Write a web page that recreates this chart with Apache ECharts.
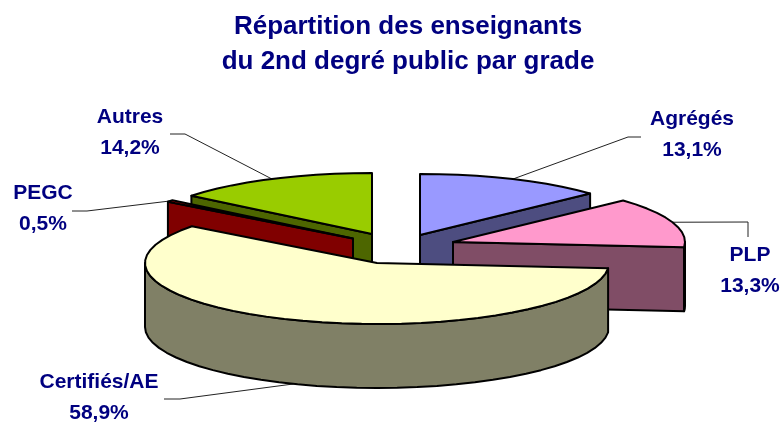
<!DOCTYPE html>
<html><head><meta charset="utf-8">
<style>html,body{margin:0;padding:0;background:#fff}#c{width:782px;height:423px}</style>
<script src="https://cdn.jsdelivr.net/npm/echarts@6/dist/echarts.min.js"></script>
</head><body><div id="c"></div>
<script>
// data (clockwise from 12 o'clock)
var categories = ['Agrégés', 'PLP', 'Certifiés/AE', 'PEGC', 'Autres'];
var percents = [13.1, 13.3, 58.9, 0.5, 14.2];
var titleLines = ['Répartition des enseignants', 'du 2nd degré public par grade'];

// styling and layout
var topColors = ['#9999ff', '#ff99cc', '#ffffcc', '#ff0000', '#99cc00'];
var sideColors = ['#4d4d80', '#804d66', '#808066', '#800000', '#4d6600'];
var apexes = [[420, 235], [453, 242], [377, 263], [353, 238.5], [372, 234]];
var leaderEnds = [[[628, 137], [641, 137]], [[748, 222], [748, 237]], [[180, 399], [164, 399]], [[87, 211], [72, 211]], [[185, 134], [170, 134]]];
var labelPos = [[692, 134.5], [750, 271], [99, 397.5], [43, 209], [130, 133]];
var drawOrder = [4, 3, 0, 1, 2];
var RX = 232, RY = 61, DEPTH = 64, TEXT = '#000080';

var angles = [], acc = 0, total = percents.reduce(function (a, b) { return a + b; }, 0);
percents.forEach(function (p) { angles.push([acc / total * 360, (acc + p) / total * 360]); acc += p; });

function pt(i, deg, dy) {
  var r = deg * Math.PI / 180;
  return [apexes[i][0] + RX * Math.sin(r), apexes[i][1] - RY * Math.cos(r) + (dy || 0)];
}
function arc(i, a, b, dy) {
  var out = [], n = Math.max(1, Math.ceil((b - a) / 5));
  for (var k = 0; k <= n; k++) out.push(pt(i, a + (b - a) * k / n, dy));
  return out;
}
function poly(points, fill) {
  return { type: 'polygon', shape: { points: points },
    style: { fill: fill, stroke: '#000', lineWidth: 2, lineJoin: 'round' } };
}
function wall(i, deg) {
  var a = apexes[i], p = pt(i, deg);
  return poly([a, p, [p[0], p[1] + DEPTH], [a[0], a[1] + DEPTH]], sideColors[i]);
}
function renderItem(params, api) {
  var i = api.value(0), s = angles[i][0], e = angles[i][1], kids = [];
  if (s > 180 && s < 360) kids.push(wall(i, s));
  if (e > 0 && e < 180) kids.push(wall(i, e));
  var ra = Math.max(s, 90), rb = Math.min(e, 270);
  if (rb > ra) {
    kids.push(poly(arc(i, ra, rb, 0).concat(arc(i, ra, rb, DEPTH).reverse()), sideColors[i]));
  }
  kids.push(poly([apexes[i]].concat(arc(i, s, e, 0)), topColors[i]));
  return { type: 'group', children: kids };
}
function renderLabel(params, api) {
  var i = api.value(0), mid = (angles[i][0] + angles[i][1]) / 2;
  var inFront = mid > 90 && mid < 270;
  var pts = [pt(i, mid, inFront ? DEPTH : 0)].concat(leaderEnds[i]);
  return { type: 'group', children: [
    { type: 'polyline', shape: { points: pts }, style: { fill: null, stroke: '#222', lineWidth: 1 } },
    { type: 'text', style: {
        text: categories[i] + '\n' + percents[i].toFixed(1).replace('.', ',') + '%',
        x: labelPos[i][0], y: labelPos[i][1], align: 'center', verticalAlign: 'middle',
        fill: TEXT, font: 'bold 21px "Liberation Sans", Arial, sans-serif', lineHeight: 31 } }
  ] };
}
var chart = echarts.init(document.getElementById('c'), null, { renderer: 'canvas' });
chart.setOption({
  backgroundColor: '#fff', animation: false,
  title: { text: titleLines.join('\n'), left: 403, top: 4, textAlign: 'center',
    textStyle: { color: TEXT, fontFamily: '"Liberation Sans", Arial, sans-serif', fontWeight: 'bold', fontSize: 26, lineHeight: 35 } },
  series: [
    { type: 'custom', coordinateSystem: 'none', renderItem: renderLabel, z: 1, silent: true,
      data: categories.map(function (c, i) { return { name: c, value: [i, percents[i]] }; }) },
    { type: 'custom', coordinateSystem: 'none', renderItem: renderItem, z: 2, silent: true,
      data: drawOrder.map(function (i) { return { name: categories[i], value: [i, percents[i]] }; }) }
  ]
});
</script></body></html>
